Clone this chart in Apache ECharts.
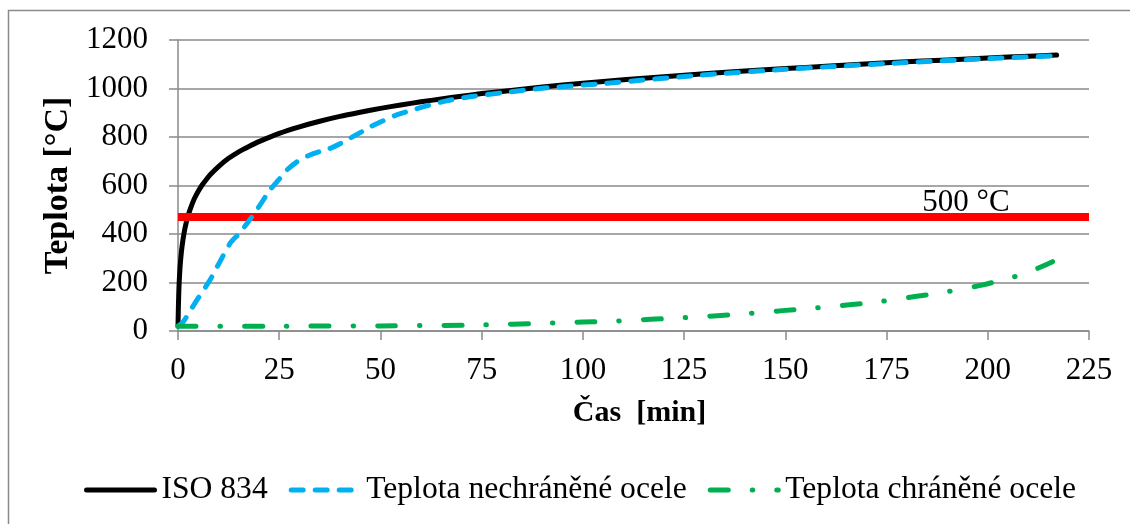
<!DOCTYPE html>
<html>
<head>
<meta charset="utf-8">
<script src="https://cdn.jsdelivr.net/npm/echarts@6/dist/echarts.min.js"></script>
<style>
html,body{margin:0;padding:0;background:#fff;}
#chart{width:1130px;height:524px;}
</style>
</head>
<body>
<div id="chart"></div>
<script>
// ISO 834 curve (time in min, temperature in °C)
var isoT = [0, 0.1, 0.25, 0.5, 0.75, 1, 1.5, 2, 2.5, 3, 4, 5, 6, 7, 8, 10, 12.5, 15, 17.5, 20, 25, 30, 35, 40, 45, 50, 55, 60, 65, 70, 75, 80, 90, 100, 110, 125, 140, 150, 160, 175, 190, 200, 210, 217];
var isoV = [20, 101, 185, 261, 311, 349, 404, 445, 476, 502, 544, 576, 603, 625, 645, 678, 712, 739, 761, 781, 815, 842, 865, 885, 902, 918, 932, 945, 957, 968, 979, 988, 1006, 1022, 1036, 1055, 1072, 1082, 1092, 1106, 1118, 1126, 1133, 1138];
// Unprotected steel
var bareT = [0, 1.3, 4, 7.9, 10, 12.9, 15, 17, 20, 22.7, 25, 26.9, 30, 32.6, 35, 37.6, 40, 42.5, 45, 47.5, 50, 54, 60.7, 66, 72, 80, 90, 104, 129, 150, 175, 200, 217];
var bareV = [20, 38, 110, 210, 275, 362, 400, 442, 513, 581, 626, 664, 705, 726, 740, 753, 772, 795, 818, 842, 862, 891, 925, 948, 966, 982, 1001, 1019, 1055, 1079, 1103, 1123, 1135];
// Protected steel
var protT = [0, 25, 50, 75, 90, 100, 108.5, 116.7, 125, 133.2, 141.4, 149.3, 157.5, 165.8, 173.7, 182, 190, 197.9, 206, 211, 216];
var protV = [20, 20, 21, 25, 32, 37, 41, 48, 55, 63, 73, 84, 95, 108, 122, 142, 162, 187, 221, 249, 286];
// Critical temperature line
var critT = [0, 225];
var critV = [470, 470];
var critLabel = '500 °C';
var critLabelT = 194.6;

var xTicks = {min: 0, max: 225, interval: 25};
var yTicks = {min: 0, max: 1200, interval: 200};

function pairs(t, v){ return t.map(function(x,i){ return [x, v[i]]; }); }

var FONT = 'Liberation Serif';
var GRAY = '#8a8a8a';

var chart = echarts.init(document.getElementById('chart'), null, {renderer:'canvas'});
chart.setOption({
  backgroundColor: '#ffffff',
  animation: false,
  textStyle: {fontFamily: FONT},
  graphic: [{
    type: 'rect', silent: true, z: -1,
    shape: {x: 8.5, y: 10.5, width: 1300, height: 700},
    style: {fill: 'none', stroke: GRAY, lineWidth: 1.5}
  }],
  grid: {left: 178, right: 41, top: 40, bottom: 193, containLabel: false},
  xAxis: {
    type: 'value', min: xTicks.min, max: xTicks.max, interval: xTicks.interval,
    name: 'Čas  [min]', nameLocation: 'middle', nameGap: 67,
    nameTextStyle: {fontFamily: FONT, fontSize: 30, fontWeight: 'bold', color: '#000', padding: [0, 0, 0, 12]},
    axisLine: {show: true, lineStyle: {color: GRAY, width: 1.5}},
    axisTick: {show: true, length: 9, lineStyle: {color: GRAY, width: 1.5}},
    axisLabel: {fontFamily: FONT, fontSize: 31, color: '#000', margin: 24},
    splitLine: {show: false}
  },
  yAxis: {
    type: 'value', min: yTicks.min, max: yTicks.max, interval: yTicks.interval,
    name: 'Teplota [°C]', nameLocation: 'middle', nameGap: 93, nameRotate: 90,
    nameTextStyle: {fontFamily: FONT, fontSize: 34, fontWeight: 'bold', color: '#000'},
    axisLine: {show: true, lineStyle: {color: GRAY, width: 1.5}},
    axisTick: {show: true, length: 9, lineStyle: {color: GRAY, width: 1.5}},
    axisLabel: {fontFamily: FONT, fontSize: 31, color: '#000', margin: 30,
                formatter: function(v){ return String(v); }},
    splitLine: {show: true, lineStyle: {color: GRAY, width: 1.5}}
  },
  legend: {
    left: 84, top: 474, padding: 0,
    itemWidth: 68, itemHeight: 14, itemGap: 21,
    itemStyle: {opacity: 0},
    lineStyle: {width: 5},
    textStyle: {fontFamily: FONT, fontSize: 31.6, color: '#000', padding: [0, 0, 0, 2]},
    data: ['ISO 834', 'Teplota nechráněné ocele', 'Teplota chráněné ocele']
  },
  series: [
    {
      name: 'ISO 834', type: 'line', data: pairs(isoT, isoV),
      smooth: 0.25, symbol: 'none', showSymbol: false, z: 2,
      lineStyle: {color: '#000000', width: 5, cap: 'round', join: 'round'},
      itemStyle: {color: '#000000'}
    },
    {
      name: 'crit', type: 'line', data: pairs(critT, critV),
      symbol: 'none', z: 3,
      lineStyle: {color: '#ff0000', width: 8},
      itemStyle: {color: '#ff0000'},
      markPoint: {
        symbol: 'circle', symbolSize: 0,
        data: [{coord: [critLabelT, critV[0]], value: critLabel}],
        label: {show: true, position: 'inside', offset: [0, -14], formatter: critLabel,
                fontFamily: FONT, fontSize: 31, color: '#000'}
      }
    },
    {
      name: 'Teplota nechráněné ocele', type: 'line', data: pairs(bareT, bareV),
      smooth: 0.25, symbol: 'none', showSymbol: false, z: 4,
      lineStyle: {color: '#00b0f0', width: 5, type: [12, 12], cap: 'round', join: 'round'},
      itemStyle: {color: '#00b0f0'}
    },
    {
      name: 'Teplota chráněné ocele', type: 'line', data: pairs(protT, protV),
      smooth: 0.25, symbol: 'none', showSymbol: false, z: 5,
      lineStyle: {color: '#00b050', width: 5, type: [18, 24, 0.5, 24], cap: 'round', join: 'round'},
      itemStyle: {color: '#00b050'}
    }
  ]
});
</script>
</body>
</html>
